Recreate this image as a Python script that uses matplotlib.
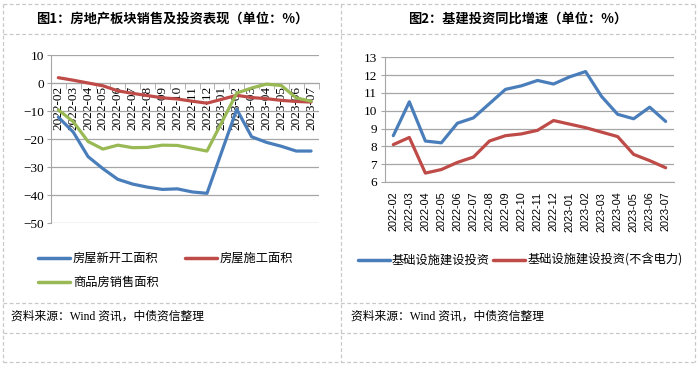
import numpy as np
import matplotlib
matplotlib.use("Agg")
import matplotlib.pyplot as plt
from matplotlib.lines import Line2D

plt.rcParams['font.family'] = ['Noto Sans CJK SC', 'DejaVu Sans']

months = ["2022-02", "2022-03", "2022-04", "2022-05", "2022-06", "2022-07",
          "2022-08", "2022-09", "2022-10", "2022-11", "2022-12", "2023-01",
          "2023-02", "2023-03", "2023-04", "2023-05", "2023-06", "2023-07"]

nan = np.nan
new_start = [-12.2, -17.5, -26.3, -30.6, -34.4, -36.1, -37.2, -38.0, -37.8,
             -38.9, -39.4, nan, -9.4, -19.2, -21.2, -22.6, -24.3, -24.3]
construction = [1.9, 1.0, 0.0, -1.0, -2.8, -3.7, -4.5, -5.3, -5.7,
                -6.5, -7.2, nan, -4.4, -5.2, -5.6, -6.2, -6.6, -6.8]
sales = [-9.6, -13.8, -20.9, -23.6, -22.2, -23.1, -23.0, -22.2, -22.3,
         -23.3, -24.3, nan, -3.6, -1.8, -0.4, -0.9, -5.3, -6.5]

infra = [8.6, 10.5, 8.3, 8.2, 9.3, 9.6, 10.4, 11.2, 11.4,
         11.7, 11.5, 11.9, 12.2, 10.8, 9.8, 9.55, 10.2, 9.4]
infra_ex_power = [8.1, 8.5, 6.5, 6.7, 7.1, 7.4, 8.3, 8.6, 8.7,
                  8.9, 9.45, 9.25, 9.05, 8.8, 8.55, 7.55, 7.2, 6.8]

left_names = ["房屋新开工面积", "房屋施工面积", "商品房销售面积"]
right_names = ["基础设施建设投资", "基础设施建设投资(不含电力)"]
title1 = "图1：房地产板块销售及投资表现（单位：%）"
title2 = "图2：基建投资同比增速（单位：%）"
source = "资料来源：Wind 资讯，中债资信整理"

BLUE = "#4A7EBB"
RED = "#BE4B48"
GREEN = "#98B954"
GRID = "#A6A6A6"

W, H = 700, 366
fig = plt.figure(figsize=(W / 100, H / 100), dpi=100)


def px_axes(x0, y0, x1, y1):
    return fig.add_axes([x0 / W, 1 - y1 / H, (x1 - x0) / W, (y1 - y0) / H])


# background frame
bg = fig.add_axes([0, 0, 1, 1])
bg.set_xlim(0, W)
bg.set_ylim(H, 0)
bg.axis("off")
dash = dict(color="#C8C8C8", lw=0.9, ls=(0, (3, 2)))
for yy in [4, 34, 302.7, 333.3, 361.7]:
    bg.plot([3, 695], [yy, yy], **dash)
for xx in [3, 341, 695]:
    bg.plot([xx, xx], [4, 361.7], **dash)
bg.text(172, 19, title1, ha="center", va="center", fontsize=9.5, fontweight="bold")
bg.text(518, 19, title2, ha="center", va="center", fontsize=9.5, fontweight="bold")
bg.text(11, 317, source, ha="left", va="center", fontsize=8.5,
        family=['Liberation Serif', 'Noto Sans CJK SC'])
bg.text(351, 317, source, ha="left", va="center", fontsize=8.5,
        family=['Liberation Serif', 'Noto Sans CJK SC'])

x = np.arange(len(months))


def plot_series(ax, vals, color):
    v = np.array(vals, dtype=float)
    m = np.isfinite(v)
    ax.plot(x[m], v[m], color=color, lw=2.3, solid_capstyle="round", zorder=3)


# ---------- left chart ----------
ax1 = px_axes(50.9, 55, 318.5, 223)
ax1.set_xlim(-0.5, len(months) - 0.5)
ax1.set_ylim(-50, 10)
ax1.set_yticks(np.arange(-50, 11, 10))
ax1.grid(axis="y", color=GRID, lw=0.9)
ax1.set_axisbelow(True)
for s in ["top", "right"]:
    ax1.spines[s].set_visible(False)
ax1.spines["left"].set_color(GRID)
ax1.spines["bottom"].set_position(("data", 0))
ax1.spines["bottom"].set_color(GRID)
ax1.set_xticks(x)
ax1.set_xticklabels(months, rotation=90, fontsize=9.5, family="Liberation Serif")
ax1.set_xticks(np.arange(-0.5, len(months), 1), minor=True)
ax1.tick_params(axis="x", which="major", length=0, pad=2)
ax1.tick_params(axis="x", which="minor", length=4, color=GRID, direction="out")
ax1.tick_params(axis="y", length=3, color=GRID, labelsize=9.5, pad=2)
for lab in ax1.get_yticklabels():
    lab.set_family("Liberation Serif")
plot_series(ax1, new_start, BLUE)
plot_series(ax1, construction, RED)
plot_series(ax1, sales, GREEN)

# left legend
def leg_item(xl, y, color, text):
    bg.plot([xl, xl + 32], [y, y], color=color, lw=2.5, solid_capstyle="round")
    bg.text(xl + 35, y, text, ha="left", va="center", fontsize=8.8)

leg_item(38, 258, BLUE, left_names[0])
leg_item(185, 258, RED, left_names[1])
leg_item(38, 282, GREEN, left_names[2])

# ---------- right chart ----------
ax2 = px_axes(385.3, 57.3, 673.7, 182)
ax2.set_xlim(-0.5, len(months) - 0.5)
ax2.set_ylim(6, 13)
ax2.set_yticks(np.arange(6, 14, 1))
ax2.grid(axis="y", color=GRID, lw=0.9)
ax2.set_axisbelow(True)
for s in ["top", "right"]:
    ax2.spines[s].set_visible(False)
ax2.spines["left"].set_color(GRID)
ax2.spines["bottom"].set_color(GRID)
ax2.set_xticks(x)
ax2.set_xticklabels(months, rotation=90, fontsize=7.8, family="Liberation Sans")
ax2.set_xticks(np.arange(-0.5, len(months), 1), minor=True)
ax2.tick_params(axis="x", which="major", length=0, pad=7)
ax2.tick_params(axis="x", which="minor", length=0)
ax2.tick_params(axis="y", length=3, color=GRID, labelsize=9.5, pad=3)
for lab in ax2.get_yticklabels():
    lab.set_family("Liberation Serif")
plot_series(ax2, infra, BLUE)
plot_series(ax2, infra_ex_power, RED)

leg_item(358, 260, BLUE, right_names[0])
bg.texts[-1].set_x(392)
leg_item(493, 260, RED, right_names[1])
bg.texts[-1].set_x(528)

fig.savefig("out.png", dpi=100)
